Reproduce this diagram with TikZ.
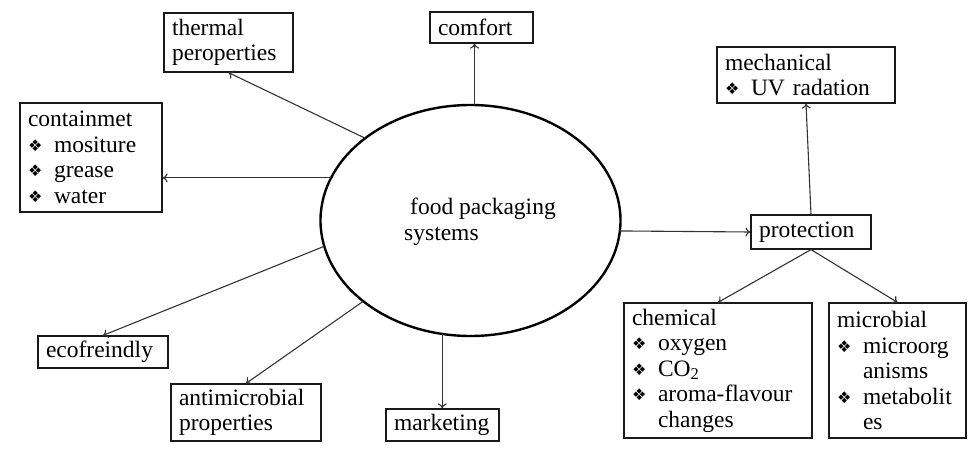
\documentclass[tikz,border=0pt]{standalone}
\usepackage{fontspec}
\setmainfont{Liberation Serif}
\newfontfamily\symfont{DejaVu Sans}
\usetikzlibrary{shapes.geometric,arrows.meta}
\newcommand{\bul}{\makebox[26pt][l]{\raisebox{1pt}{\symfont\fontsize{16}{16}\selectfont ❖}}}
\newcommand{\ind}{\hspace*{26pt}}
\definecolor{lin}{HTML}{333333}
\begin{document}
\begin{tikzpicture}[x=1pt,y=-1pt,
  box/.style={draw=black!90, line width=1.2pt, inner xsep=8pt, inner ysep=0pt, align=left,
    font=\fontsize{23.5}{25.5}\selectfont},
  arr/.style={draw=lin, line width=1.1pt, -{To[length=5pt,width=9pt]}},
  ell/.style={draw=black, line width=2.4pt, ellipse, minimum width=300pt, minimum height=231pt, inner sep=0pt, outer sep=0pt}]
\useasboundingbox (0,0) rectangle (975,460);
\fill[white] (0,0) rectangle (975,460);

\node[ell] (ell) at (470.5,220.5) {};
\node[align=left, inner sep=0pt, font=\fontsize{23.5}{25.5}\selectfont] (elltxt) at (480,222) {\hspace*{6pt}food packaging\\systems};

\node[box, text width=113pt, minimum height=59pt] (therm) at (228.5,42.5) {thermal\\peroperties};
\node[box, text width=87pt, minimum height=31pt] (comf) at (481.5,27.5) {comfort};
\node[box, text width=126pt, minimum height=109pt] (cont) at (91,157.5) {containmet\\\bul mositure\\\bul grease\\\bul water};
\node[box, text width=162pt, minimum height=56pt] (mech) at (806,75) {mechanical\\\bul UV radation};
\node[box, text width=104pt, minimum height=34pt] (prot) at (811,232) {protection};
\node[box, text width=172pt, minimum height=135pt] (chem) at (718,370.5) {chemical\\\bul oxygen\\\bul CO\textsubscript{2}\\\bul aroma-flavour\\\ind changes};
\node[box, text width=121pt, minimum height=135pt] (micro) at (897.5,370.5) {microbial\\\bul microorg\\\ind anisms\\\bul metabolit\\\ind es};
\node[box, text width=114pt, minimum height=32pt] (eco) at (103,352) {ecofreindly};
\node[box, text width=134pt, minimum height=57pt] (anti) at (246,412.5) {antimicrobial\\properties};
\node[box, text width=97pt, minimum height=32pt] (mark) at (442.5,425) {marketing};

\draw[arr] (ell.142.5) -- (therm.south);
\draw[arr] (ell.88) -- (ell.88 |- comf.south);
\draw[arr] (ell.163.3) -- (ell.163.3 -| cont.east);
\draw[arr] (ell.190.5) -- (eco.north);
\draw[arr] (ell.217.8) -- (anti.north);
\draw[arr] (ell.256) -- (ell.256 |- mark.north);
\draw[arr] (ell.356.7) -- (prot.west);
\draw[arr] (prot.north) -- (mech.south);
\draw[arr] (prot.south) -- (chem.north);
\draw[arr] (prot.south) -- (micro.north);
\end{tikzpicture}
\end{document}
